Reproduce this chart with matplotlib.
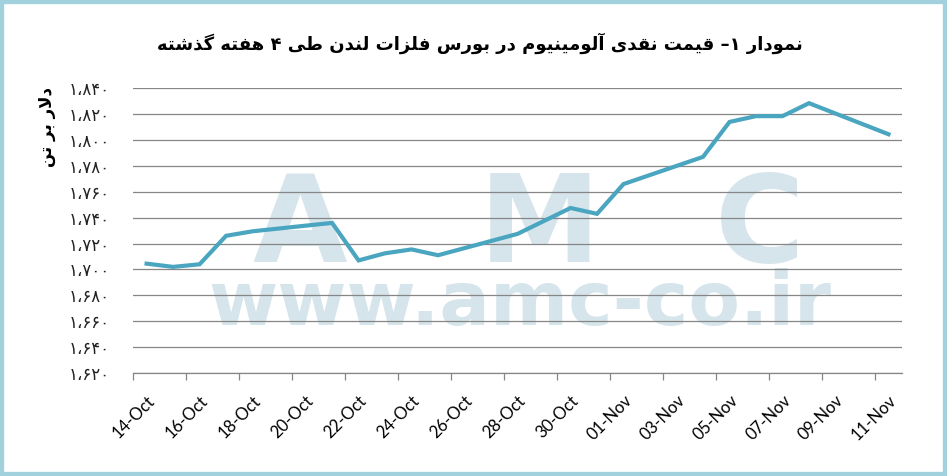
import matplotlib
matplotlib.use("Agg")
import matplotlib.pyplot as plt
from matplotlib.patches import Rectangle
import pandas as pd

# data (LME aluminium cash price, $/t)
dates = ['2013-10-14', '2013-10-15', '2013-10-16', '2013-10-17', '2013-10-18',
         '2013-10-21', '2013-10-22', '2013-10-23', '2013-10-24', '2013-10-25',
         '2013-10-28', '2013-10-29', '2013-10-30', '2013-10-31', '2013-11-01',
         '2013-11-04', '2013-11-05', '2013-11-06', '2013-11-07', '2013-11-08',
         '2013-11-11']
prices = [1704.5, 1702, 1704, 1726, 1729.5,
          1736, 1707, 1712.5, 1715.5, 1711,
          1727.5, 1737.5, 1747.5, 1743, 1766,
          1787, 1814, 1818.5, 1818.5, 1828.5,
          1804.5]
yticks = [1620, 1640, 1660, 1680, 1700, 1720, 1740, 1760, 1780, 1800, 1820, 1840]

title = 'نمودار ۱– قیمت نقدی آلومینیوم در بورس فلزات لندن طی ۴ هفته گذشته'
ylabel = 'دلار بر تن'

# --- tiny persian shaper (matplotlib has no RTL / joining support) ---
FORMS = {
    'ا': ('\uFE8D', '\uFE8E'), 'آ': ('\uFE81', '\uFE82'),
    'د': ('\uFEA9', '\uFEAA'), 'ذ': ('\uFEAB', '\uFEAC'),
    'ر': ('\uFEAD', '\uFEAE'), 'ز': ('\uFEAF', '\uFEB0'),
    'و': ('\uFEED', '\uFEEE'),
    'ب': ('\uFE8F', '\uFE90', '\uFE91', '\uFE92'),
    'ت': ('\uFE95', '\uFE96', '\uFE97', '\uFE98'),
    'س': ('\uFEB1', '\uFEB2', '\uFEB3', '\uFEB4'),
    'ش': ('\uFEB5', '\uFEB6', '\uFEB7', '\uFEB8'),
    'ط': ('\uFEC1', '\uFEC2', '\uFEC3', '\uFEC4'),
    'ف': ('\uFED1', '\uFED2', '\uFED3', '\uFED4'),
    'ق': ('\uFED5', '\uFED6', '\uFED7', '\uFED8'),
    'ل': ('\uFEDD', '\uFEDE', '\uFEDF', '\uFEE0'),
    'م': ('\uFEE1', '\uFEE2', '\uFEE3', '\uFEE4'),
    'ن': ('\uFEE5', '\uFEE6', '\uFEE7', '\uFEE8'),
    'ه': ('\uFEE9', '\uFEEA', '\uFEEB', '\uFEEC'),
    'ی': ('\uFBFC', '\uFBFD', '\uFBFE', '\uFBFF'),
    'گ': ('\uFB92', '\uFB93', '\uFB94', '\uFB95'),
}
LAM_ALEF = {'ا': ('\uFEFB', '\uFEFC'), 'آ': ('\uFEF5', '\uFEF6')}


def fa(s):
    res = []
    i = 0
    n = len(s)
    while i < n:
        c = s[i]
        if c not in FORMS:
            res.append(c)
            i += 1
            continue
        prev = s[i - 1] if i > 0 else ''
        link_prev = prev in FORMS and len(FORMS[prev]) == 4
        if c == 'ل' and i + 1 < n and s[i + 1] in LAM_ALEF:
            lig = LAM_ALEF[s[i + 1]]
            res.append(lig[1] if link_prev else lig[0])
            i += 2
            continue
        nxt = s[i + 1] if i + 1 < n else ''
        f = FORMS[c]
        link_next = len(f) == 4 and nxt in FORMS
        if link_prev and link_next:
            g = f[3]
        elif link_prev:
            g = f[1]
        elif link_next:
            g = f[2]
        else:
            g = f[0]
        res.append(g)
        i += 1
    return ''.join(reversed(res))


def fa_num(v):
    d = str(v).translate(str.maketrans('0123456789', '۰۱۲۳۴۵۶۷۸۹'))
    return d[0] + '،' + d[1:]


d = pd.to_datetime(dates)
x = (d - d[0]).days
tick_days = list(range(0, 29, 2))
tick_lbls = [(d[0] + pd.Timedelta(days=k)).strftime('%d-%b') for k in tick_days]

fig = plt.figure(figsize=(9.47, 4.76), dpi=100)
ax = fig.add_axes([0.1408, 0.2164, 0.8114, 0.5981])

# watermark
wm = '#d6e5eb'
for letter, cx in zip('AMC', [300, 540, 760]):
    ax.text(cx / 947, 1 - 229 / 476, letter, transform=fig.transFigure,
            fontsize=88, fontweight='bold', color=wm, ha='center', va='center',
            family='DejaVu Sans', zorder=0.1)
ax.text(520 / 947, 1 - 304 / 476, 'www.amc-co.ir', transform=fig.transFigure,
        fontsize=54, fontweight='bold', color=wm, ha='center', va='center',
        family='DejaVu Sans', zorder=0.1)

ax.plot(x, prices, color='#4aa6c0', lw=3, solid_joinstyle='miter', zorder=3)

ax.set_xlim(-0.5, 28.5)
ax.set_ylim(1620, 1840)
ax.set_yticks(yticks)
ax.set_yticklabels([fa_num(v) for v in yticks], family='DejaVu Sans', fontsize=12,
                   color='#222222')
ax.grid(axis='y', color='#868686', lw=0.9)
ax.tick_params(axis='y', length=0, pad=17)

ax.set_xticks([k - 0.5 for k in tick_days])
ax.set_xticklabels([])
ax.set_xticks(tick_days, minor=True)
ax.set_xticklabels(tick_lbls, minor=True, rotation=45, ha='right', va='top',
                   rotation_mode='anchor', family='Lato', fontsize=12)
ax.tick_params(axis='x', which='major', length=5, color='#868686', width=0.9)
ax.tick_params(axis='x', which='minor', length=0, pad=14)

for s in ['top', 'right', 'left']:
    ax.spines[s].set_visible(False)
ax.spines['bottom'].set_color('#868686')
ax.spines['bottom'].set_linewidth(0.9)

fig.text(480 / 947, 1 - 43 / 476, fa(title), ha='center', va='center',
         fontsize=13, fontweight='bold', family='DejaVu Sans')
fig.text(47 / 947, 1 - 127 / 476, fa(ylabel), ha='center', va='center',
         rotation=90, fontsize=12, fontweight='bold', family='DejaVu Sans')

fig.patches.append(Rectangle((0, 0), 1, 1, transform=fig.transFigure, fill=False,
                             edgecolor='#a0d1dc', lw=6))

fig.savefig('out.png', dpi=100)
